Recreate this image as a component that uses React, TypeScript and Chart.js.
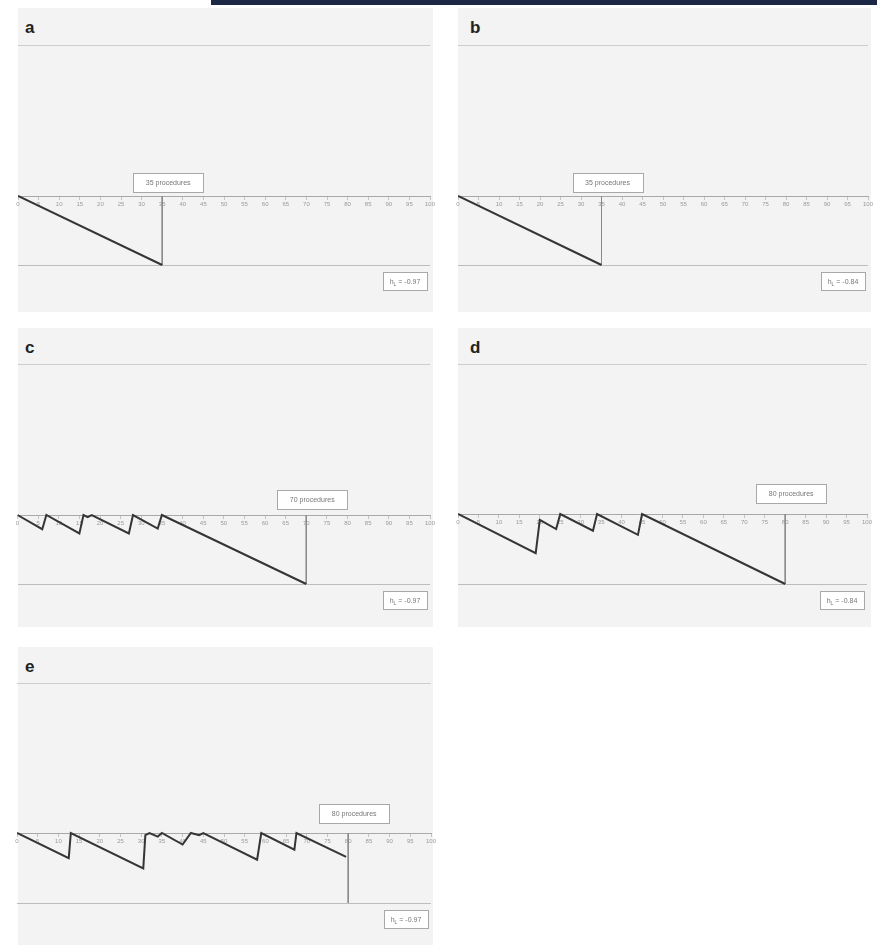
import React, { useEffect, useRef } from 'react';
import { Chart, registerables } from 'chart.js';

Chart.register(...registerables);

// ---------- data ----------
const panelLetters = ['a', 'b', 'c', 'd', 'e'];
const signalProcedures = [35, 35, 70, 80, 80];
const signalLabels = ['35 procedures', '35 procedures', '70 procedures', '80 procedures', '80 procedures'];
const hLimits = [-0.97, -0.84, -0.97, -0.84, -0.97];
const hLimitLabels = ['-0.97', '-0.84', '-0.97', '-0.84', '-0.97'];
const xTickLabels = [0, 5, 10, 15, 20, 25, 30, 35, 40, 45, 50, 55, 60, 65, 70, 75, 80, 85, 90, 95, 100];

const seriesAX = [0, 35];
const seriesAY = [0, -0.97];

const seriesBX = [0, 35];
const seriesBY = [0, -0.84];

const seriesCX = [0, 6, 7, 15, 16, 17, 18, 27, 28, 34, 35, 70];
const seriesCY = [0, -0.2, 0, -0.26, 0, -0.03, 0, -0.26, 0, -0.19, 0, -0.97];

const seriesDX = [0, 19, 20, 24, 25, 33, 34, 44, 45, 80];
const seriesDY = [0, -0.47, -0.07, -0.18, 0, -0.2, 0, -0.25, 0, -0.84];

const seriesEX = [0, 12.5, 13, 30.5, 31, 32, 34, 35, 40, 42, 44, 45, 58, 59, 67, 67.5, 79.5];
const seriesEY = [0, -0.35, 0, -0.49, -0.03, 0, -0.05, 0, -0.16, 0, -0.03, 0, -0.37, 0, -0.23, 0, -0.33];

const seriesX = [seriesAX, seriesBX, seriesCX, seriesDX, seriesEX];
const seriesY = [seriesAY, seriesBY, seriesCY, seriesDY, seriesEY];

// ---------- layout (page pixels) ----------
const layouts = [
  { bg: [18, 8, 433, 312], x0: 18, x100: 430, top: 45, zero: 196, lower: 265, gap: 4, letterLeft: 25 },
  { bg: [458, 8, 871, 312], x0: 458, x100: 868, top: 45, zero: 196, lower: 265, gap: 4, letterLeft: 470 },
  { bg: [18, 328, 433, 627], x0: 17.5, x100: 430, top: 364, zero: 515, lower: 584, gap: 6, letterLeft: 25 },
  { bg: [458, 328, 871, 627], x0: 458, x100: 867, top: 364, zero: 514, lower: 584, gap: 11, letterLeft: 470 },
  { bg: [18, 647, 433, 945], x0: 17, x100: 431, top: 683, zero: 833, lower: 903, gap: 10, letterLeft: 25 },
];

const FONT = '"Liberation Sans", Arial, sans-serif';

const annotPlugin = {
  id: 'annot',
  afterDatasetsDraw(chart: any, _args: any, opts: any) {
    const { ctx } = chart;
    const x = chart.scales.x;
    const y = chart.scales.y;
    ctx.save();
    // signal box
    const cx = x.getPixelForValue(opts.signal) + 6;
    const bw = 70;
    const bh = 19;
    const by = y.getPixelForValue(0) - opts.gap - bh;
    const bx = Math.round(cx - bw / 2);
    ctx.fillStyle = '#ffffff';
    ctx.fillRect(bx, Math.round(by), bw, bh);
    ctx.strokeStyle = '#a8a8a8';
    ctx.lineWidth = 1;
    ctx.strokeRect(bx + 0.5, Math.round(by) + 0.5, bw, bh);
    ctx.fillStyle = '#777';
    ctx.font = `7px ${FONT}`;
    ctx.textAlign = 'center';
    ctx.textBaseline = 'middle';
    ctx.fillText(opts.label, cx, by + bh / 2 + 0.5);

    // h box
    const hw = 44;
    const hh = 18;
    const hx = Math.round(x.getPixelForValue(100) - 3 - hw);
    const hy = Math.round(y.getPixelForValue(opts.h) + 7);
    ctx.fillStyle = '#ffffff';
    ctx.fillRect(hx, hy, hw, hh);
    ctx.strokeStyle = '#a8a8a8';
    ctx.strokeRect(hx + 0.5, hy + 0.5, hw, hh);
    ctx.fillStyle = '#777';
    ctx.textAlign = 'left';
    ctx.textBaseline = 'alphabetic';
    ctx.font = `7px ${FONT}`;
    const wH = ctx.measureText('h').width;
    const rest = ' = ' + opts.hText;
    const wRest = ctx.measureText(rest).width;
    ctx.font = `5px ${FONT}`;
    const wSub = ctx.measureText('L').width;
    const total = wH + wSub + wRest;
    let tx = hx + (hw - total) / 2;
    const base = hy + hh / 2 + 2.5;
    ctx.font = `7px ${FONT}`;
    ctx.fillText('h', tx, base);
    tx += wH;
    ctx.font = `5px ${FONT}`;
    ctx.fillText('L', tx, base + 2);
    tx += wSub;
    ctx.font = `7px ${FONT}`;
    ctx.fillText(rest, tx, base);
    ctx.restore();
  },
};

function Panel({ idx }: { idx: number }) {
  const ref = useRef<HTMLCanvasElement | null>(null);
  const L = layouts[idx];
  const canvasLeft = L.bg[0] - 12;
  const canvasTop = L.bg[1];
  const cw = L.bg[2] - L.bg[0] + 24;
  const ch = L.bg[3] - L.bg[1];

  useEffect(() => {
    if (!ref.current) return;
    const h = hLimits[idx];
    const chartBottom = L.bg[3] - 6;
    const pxPerUnit = (L.lower - L.zero) / -h;
    const yMax = (L.zero - L.top) / pxPerUnit;
    const yMin = -(chartBottom - L.zero) / pxPerUnit;
    const xs = seriesX[idx];
    const ys = seriesY[idx];
    const s = signalProcedures[idx];

    const chart = new Chart(ref.current, {
      type: 'line',
      data: {
        datasets: [
          {
            data: xs.map((v, i) => ({ x: v, y: ys[i] })),
            borderColor: '#353535',
            borderWidth: 2,
            pointRadius: 0,
            tension: 0,
            fill: false,
          },
          {
            data: [
              { x: s, y: 0 },
              { x: s, y: h },
            ],
            borderColor: '#8a8a8a',
            borderWidth: 1,
            pointRadius: 0,
            fill: false,
          },
        ],
      },
      options: {
        animation: false,
        responsive: false,
        devicePixelRatio: 1,
        layout: {
          padding: {
            left: L.x0 - canvasLeft,
            right: canvasLeft + cw - L.x100,
            top: L.top - canvasTop,
            bottom: canvasTop + ch - chartBottom,
          },
        },
        plugins: {
          legend: { display: false },
          tooltip: { enabled: false },
          annot: {
            signal: s,
            label: signalLabels[idx],
            h,
            hText: hLimitLabels[idx],
            gap: L.gap,
          },
        } as any,
        scales: {
          x: {
            type: 'linear',
            min: 0,
            max: 100,
            position: { y: 0 } as any,
            afterFit: (sc: any) => {
              sc.height = 0;
            },
            afterBuildTicks: (axis: any) => {
              axis.ticks = xTickLabels.map((v) => ({ value: v }));
            },
            ticks: {
              autoSkip: false,
              maxRotation: 0,
              minRotation: 0,
              padding: 2,
              color: '#9a9a9a',
              font: { size: 6, family: FONT },
            },
            grid: {
              display: true,
              drawOnChartArea: false,
              drawTicks: true,
              tickLength: 3,
              color: '#c4c4c4',
            },
            border: { display: true, color: '#a9a9a9', dash: [3, 2], width: 1 },
          },
          y: {
            type: 'linear',
            min: yMin,
            max: yMax,
            afterFit: (sc: any) => {
              sc.width = 0;
            },
            afterBuildTicks: (axis: any) => {
              axis.ticks = [{ value: h }, { value: yMax }];
            },
            ticks: { display: false },
            grid: {
              drawTicks: false,
              color: (c: any) => (c.tick && c.tick.value === h ? '#bdbdbd' : '#cdcdcd'),
              lineWidth: 1,
            },
            border: { display: false },
          },
        },
      },
      plugins: [annotPlugin],
    });
    return () => chart.destroy();
  }, [idx]);

  return (
    <>
      <div
        style={{
          position: 'absolute',
          left: L.bg[0],
          top: L.bg[1],
          width: L.bg[2] - L.bg[0],
          height: L.bg[3] - L.bg[1],
          background: '#f3f3f3',
        }}
      />
      <div
        style={{
          position: 'absolute',
          left: L.letterLeft,
          top: L.bg[1] + 11,
          fontFamily: FONT,
          fontWeight: 'bold',
          fontSize: 17,
          lineHeight: 1,
          color: '#222',
        }}
      >
        {panelLetters[idx]}
      </div>
      <canvas
        ref={ref}
        width={cw}
        height={ch}
        style={{ position: 'absolute', left: canvasLeft, top: canvasTop, width: cw, height: ch }}
      />
    </>
  );
}

export default function App() {
  return (
    <div
      style={{
        position: 'absolute',
        left: 0,
        top: 0,
        width: 877,
        height: 947,
        background: '#ffffff',
        overflow: 'hidden',
      }}
    >
      <div style={{ position: 'absolute', left: 211, top: 0, width: 666, height: 5, background: '#1b2744' }} />
      {panelLetters.map((_, i) => (
        <Panel key={i} idx={i} />
      ))}
    </div>
  );
}
